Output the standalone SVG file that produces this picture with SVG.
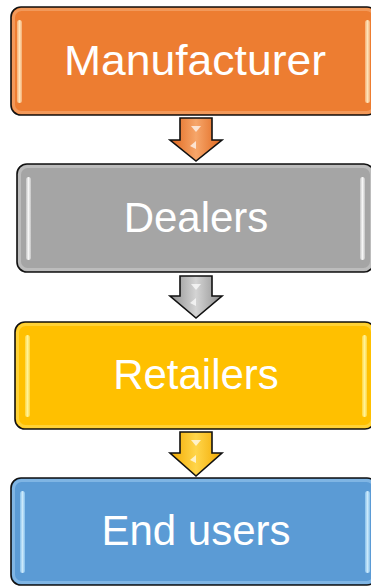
<svg xmlns="http://www.w3.org/2000/svg" width="371" height="586" viewBox="0 0 371 586">
  <style>
    .box { stroke: #111; stroke-width: 1.6; }
    .rim { fill: none; stroke-width: 3; opacity: 0.55; }
    .bar { opacity: 0.9; }
    .label { font-family: "Liberation Sans", Arial, sans-serif; font-size: 42px; fill: #ffffff; text-anchor: middle; }
    .arrow { stroke: #111; stroke-width: 1.6; stroke-linejoin: miter; }
    .glint { fill: #ffffff; opacity: 0.7; }
  </style>
  <defs>
    <linearGradient id="barOrange" x1="0" y1="0" x2="1" y2="0">
      <stop offset="0" stop-color="#f7b27a"/>
      <stop offset="0.5" stop-color="#fff0c8"/>
      <stop offset="1" stop-color="#f7b27a"/>
    </linearGradient>
    <linearGradient id="barGray" x1="0" y1="0" x2="1" y2="0">
      <stop offset="0" stop-color="#c8c8c8"/>
      <stop offset="0.5" stop-color="#ffffff"/>
      <stop offset="1" stop-color="#c8c8c8"/>
    </linearGradient>
    <linearGradient id="barGold" x1="0" y1="0" x2="1" y2="0">
      <stop offset="0" stop-color="#ffd84a"/>
      <stop offset="0.5" stop-color="#fff9a8"/>
      <stop offset="1" stop-color="#ffd84a"/>
    </linearGradient>
    <linearGradient id="barBlue" x1="0" y1="0" x2="1" y2="0">
      <stop offset="0" stop-color="#8cc4ee"/>
      <stop offset="0.5" stop-color="#d8f2ff"/>
      <stop offset="1" stop-color="#8cc4ee"/>
    </linearGradient>
    <linearGradient id="arrOrange" x1="0" y1="0" x2="1" y2="0">
      <stop offset="0" stop-color="#e0661c"/>
      <stop offset="0.5" stop-color="#f6a66a"/>
      <stop offset="1" stop-color="#e0661c"/>
    </linearGradient>
    <linearGradient id="arrGray" x1="0" y1="0" x2="1" y2="0">
      <stop offset="0" stop-color="#8e8e8e"/>
      <stop offset="0.5" stop-color="#d4d4d4"/>
      <stop offset="1" stop-color="#8e8e8e"/>
    </linearGradient>
    <linearGradient id="arrGold" x1="0" y1="0" x2="1" y2="0">
      <stop offset="0" stop-color="#f2a900"/>
      <stop offset="0.5" stop-color="#ffd54a"/>
      <stop offset="1" stop-color="#f2a900"/>
    </linearGradient>
  </defs>

  <!-- stage boxes -->
  <g id="manufacturer">
    <rect class="box" x="11" y="7" width="366" height="108" rx="10" fill="#ed7d31"/>
    <rect class="rim" x="13.5" y="9.5" width="361" height="103" rx="8" stroke="#f6b07c"/>
    <rect class="bar" x="17" y="20" width="5" height="83" rx="2.5" fill="url(#barOrange)"/>
    <rect class="bar" x="365" y="20" width="5" height="83" rx="2.5" fill="url(#barOrange)"/>
    <text class="label" x="195" y="75" textLength="262" lengthAdjust="spacingAndGlyphs">Manufacturer</text>
  </g>

  <g id="dealers">
    <rect class="box" x="17" y="164" width="357" height="108" rx="10" fill="#a5a5a5"/>
    <rect class="rim" x="19.5" y="166.5" width="352" height="103" rx="8" stroke="#cfcfcf"/>
    <rect class="bar" x="26" y="177" width="5" height="83" rx="2.5" fill="url(#barGray)"/>
    <rect class="bar" x="360" y="177" width="5" height="83" rx="2.5" fill="url(#barGray)"/>
    <text class="label" x="196" y="232">Dealers</text>
  </g>

  <g id="retailers">
    <rect class="box" x="15" y="322" width="360" height="107" rx="10" fill="#ffc000"/>
    <rect class="rim" x="17.5" y="324.5" width="355" height="102" rx="8" stroke="#ffe060"/>
    <rect class="bar" x="25" y="335" width="5" height="82" rx="2.5" fill="url(#barGold)"/>
    <rect class="bar" x="362" y="335" width="5" height="82" rx="2.5" fill="url(#barGold)"/>
    <text class="label" x="196" y="389">Retailers</text>
  </g>

  <g id="end-users">
    <rect class="box" x="11" y="478" width="366" height="107" rx="10" fill="#5b9bd5"/>
    <rect class="rim" x="13.5" y="480.5" width="361" height="102" rx="8" stroke="#9ccaf0"/>
    <rect class="bar" x="20" y="491" width="5" height="82" rx="2.5" fill="url(#barBlue)"/>
    <rect class="bar" x="365" y="491" width="5" height="82" rx="2.5" fill="url(#barBlue)"/>
    <text class="label" x="196" y="545">End users</text>
  </g>

  <!-- down arrows between stages -->
  <g id="connectors">
    <g id="arrow-1">
      <polygon class="arrow" fill="url(#arrOrange)" points="180,118 212,118 212,140 222,140 196,161 170,140 180,140"/>
      <polygon class="glint" points="191,126 201,126 196,132"/>
      <polygon class="glint" points="196,141 196,149 190,146"/>
    </g>
    <g id="arrow-2">
      <polygon class="arrow" fill="url(#arrGray)" points="180,276 212,276 212,296 222,296 196,318 170,296 180,296"/>
      <polygon class="glint" points="191,284 201,284 196,290"/>
      <polygon class="glint" points="196,298 196,306 190,303"/>
    </g>
    <g id="arrow-3">
      <polygon class="arrow" fill="url(#arrGold)" points="180,432 212,432 212,453 222,453 196,476 170,453 180,453"/>
      <polygon class="glint" points="191,440 201,440 196,446"/>
      <polygon class="glint" points="196,455 196,463 190,460"/>
    </g>
  </g>
</svg>
